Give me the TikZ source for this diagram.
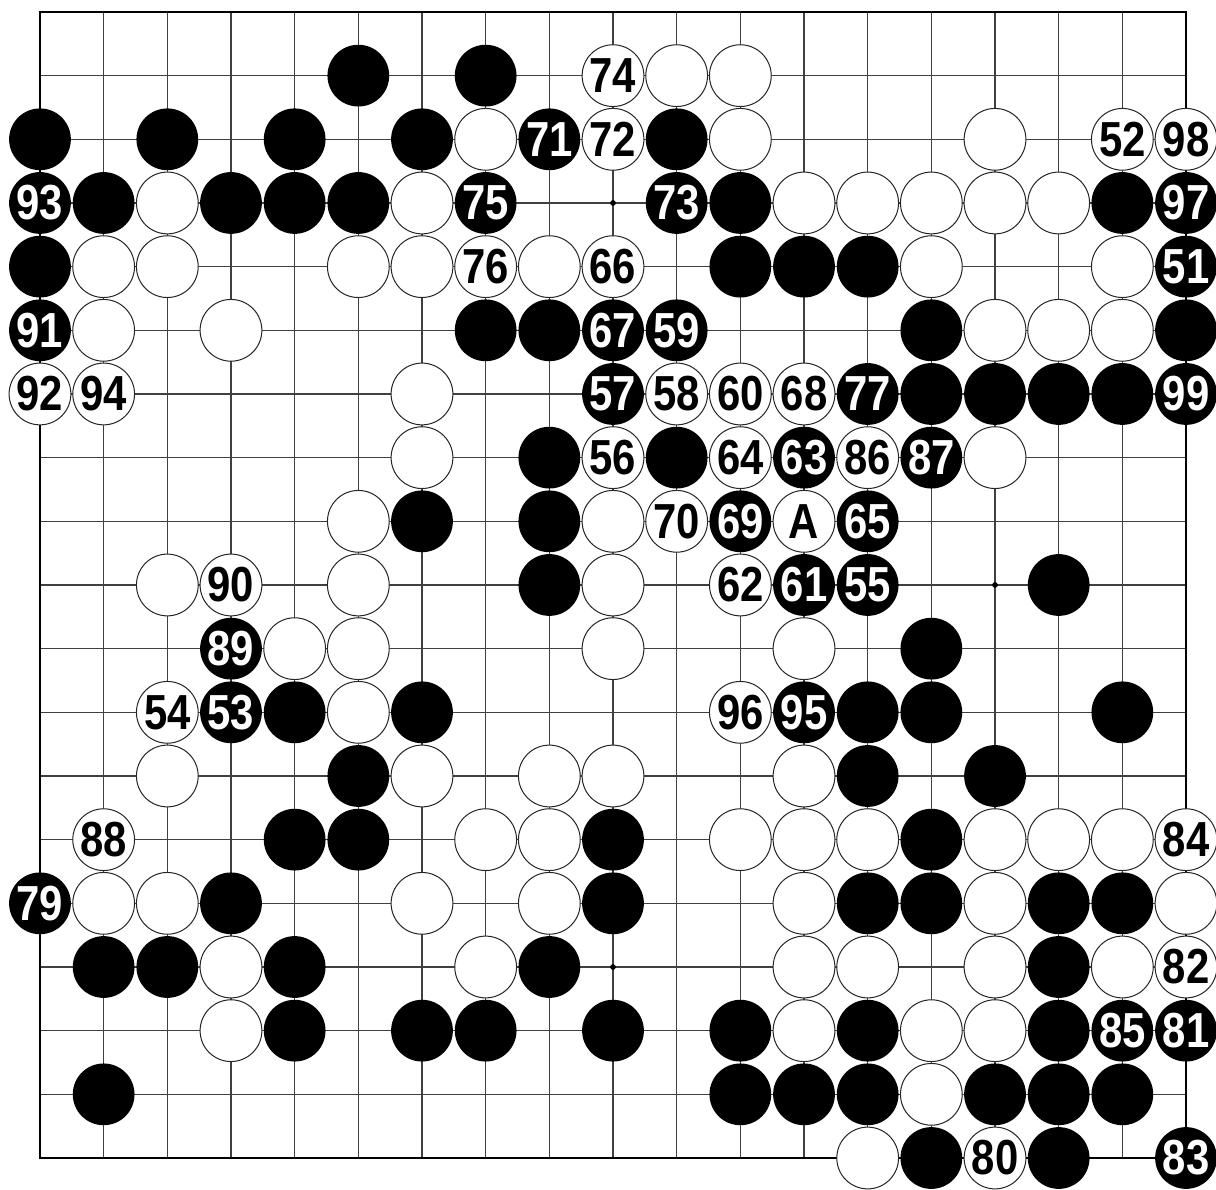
\documentclass[tikz,border=0pt]{standalone}
\usepackage{fontspec}
\newfontfamily\movefont[FakeStretch=0.85]{Liberation Sans}
\usepackage{tikz}

\begin{document}
\begin{tikzpicture}[x=1cm, y=-1cm,
  stone/.style={circle, inner sep=0pt, minimum size=0.97cm,
    font=\movefont\bfseries\fontsize{22}{22}\selectfont},
  bstone/.style={stone, fill=black, text=white},
  wstone/.style={stone, draw=black!85, line width=0.45pt, fill=white, text=black},
  gridline/.style={black!75, line width=0.5pt}]
\useasboundingbox (-0.628,-0.188) rectangle (18.471,18.487);
% board
\foreach \i in {1,...,17} {
  \draw[gridline] (\i,0) -- (\i,18);
  \draw[gridline] (0,\i) -- (18,\i);
}
\draw[line width=1.3pt] (0,0) rectangle (18,18);
\foreach \hx in {3,9,15}
  \foreach \hy in {3,9,15}
    \fill (\hx,\hy) circle (0.045);
% black stones
\foreach \c/\r in {5/1, 7/1, 0/2, 2/2, 4/2, 6/2, 10/2, 1/3, 3/3, 4/3, 5/3,
  11/3, 17/3, 0/4, 11/4, 12/4, 13/4, 7/5, 8/5, 14/5, 18/5, 14/6, 15/6, 16/6,
  17/6, 8/7, 10/7, 6/8, 8/8, 8/9, 16/9, 14/10, 4/11, 6/11, 13/11, 14/11, 17/11,
  5/12, 13/12, 15/12, 4/13, 5/13, 9/13, 14/13, 3/14, 9/14, 13/14, 14/14, 16/14,
  17/14, 1/15, 2/15, 4/15, 8/15, 16/15, 4/16, 6/16, 7/16, 9/16, 11/16, 13/16,
  16/16, 1/17, 11/17, 12/17, 13/17, 15/17, 16/17, 17/17, 14/18, 16/18}
  \node[bstone] (b\c-\r) at (\c,\r) {};
\foreach \c/\r/\m in {8/2/71, 0/3/93, 7/3/75, 10/3/73, 18/3/97, 18/4/51,
  0/5/91, 9/5/67, 10/5/59, 9/6/57, 13/6/77, 18/6/99, 12/7/63, 14/7/87,
  11/8/69, 13/8/65, 12/9/61, 13/9/55, 3/10/89, 3/11/53, 12/11/95, 0/14/79,
  17/16/85, 18/16/81, 18/18/83}
  \node[bstone] (b\c-\r) at (\c,\r) {\m};
% white stones
\foreach \c/\r in {10/1, 11/1, 7/2, 11/2, 15/2, 2/3, 6/3, 12/3, 13/3, 14/3,
  15/3, 16/3, 1/4, 2/4, 5/4, 6/4, 8/4, 14/4, 17/4, 1/5, 3/5, 15/5, 16/5, 17/5,
  6/6, 6/7, 15/7, 5/8, 9/8, 2/9, 5/9, 9/9, 4/10, 5/10, 9/10, 12/10, 5/11,
  2/12, 6/12, 8/12, 9/12, 12/12, 7/13, 8/13, 11/13, 12/13, 13/13, 15/13, 16/13,
  17/13, 1/14, 2/14, 6/14, 8/14, 12/14, 15/14, 18/14, 3/15, 7/15, 12/15, 13/15,
  15/15, 17/15, 3/16, 12/16, 14/16, 15/16, 14/17, 13/18}
  \node[wstone] (w\c-\r) at (\c,\r) {};
\foreach \c/\r/\m in {9/1/74, 9/2/72, 17/2/52, 18/2/98, 7/4/76, 9/4/66,
  0/6/92, 1/6/94, 10/6/58, 11/6/60, 12/6/68, 9/7/56, 11/7/64, 13/7/86,
  10/8/70, 12/8/A, 3/9/90, 11/9/62, 2/11/54, 11/11/96, 1/13/88, 18/13/84,
  18/15/82, 15/18/80}
  \node[wstone] (w\c-\r) at (\c,\r) {\m};
\end{tikzpicture}
\end{document}
